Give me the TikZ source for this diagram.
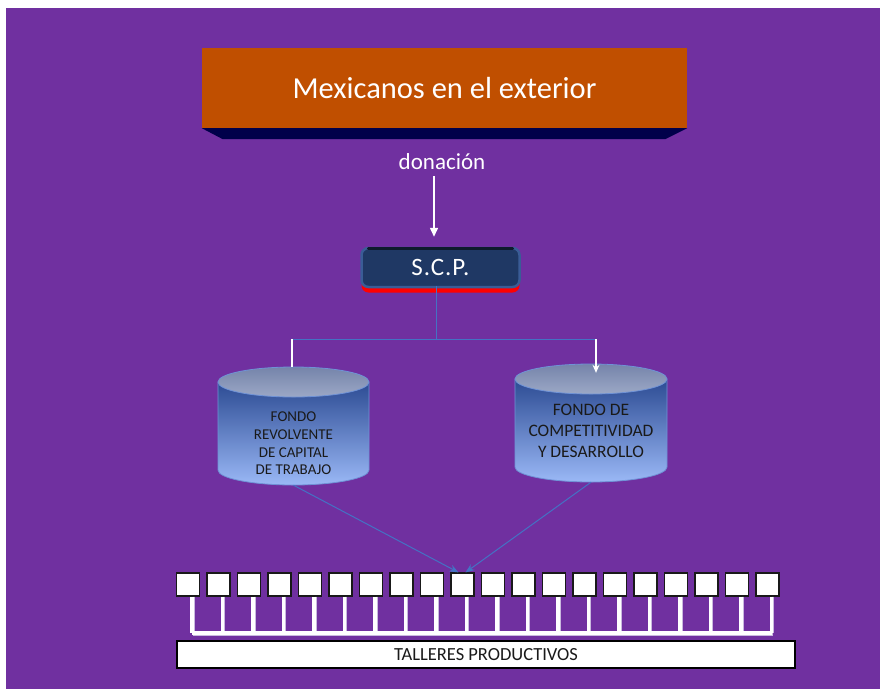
\documentclass[tikz,border=0pt]{standalone}
\usepackage{fontspec}
\setmainfont{Carlito}
\usetikzlibrary{arrows.meta,shadows}
\definecolor{bgpurple}{HTML}{7030A0}
\definecolor{toporange}{HTML}{C04F00}
\definecolor{topshadow}{HTML}{00004A}
\definecolor{scpface}{HTML}{1F3864}
\definecolor{scpedge}{HTML}{3A5C96}
\definecolor{scpdark}{HTML}{0E1B2C}
\definecolor{linkblue}{HTML}{4472C4}
\definecolor{cylTop}{HTML}{2C4B93}
\definecolor{cylBot}{HTML}{9AB8F6}
\definecolor{ellTop}{HTML}{7584AA}
\definecolor{ellBot}{HTML}{9CA8C6}
\definecolor{cylEdge}{HTML}{6F92D6}
\definecolor{txtdark}{HTML}{1A1A1A}
\definecolor{stemshadow}{HTML}{C9B9DE}
\tikzset{
  blueline/.style={draw=linkblue, line width=1pt},
  whiteline/.style={draw=white, line width=1.2pt},
  tbox/.style={draw=black!90, fill=white, line width=1.2pt, minimum width=23pt, minimum height=23pt, inner sep=0pt},
  stem/.style={draw=white, line width=3.5pt},
  stemsh/.style={draw=stemshadow, line width=3.5pt},
  cyltext/.style={align=center, text=txtdark, inner sep=0pt},
  cylbox/.style={inner sep=0pt, minimum width=151pt, minimum height=118pt},
}
\newcommand\mycyl[5]{% cx, ytop, ybot, rx, ry
  \shadedraw[top color=cylTop, bottom color=cylBot, draw=cylEdge, line width=0.8pt]
    ({#1-#4},#2) -- ({#1-#4},#3) arc[start angle=180, end angle=0, x radius=#4, y radius=#5] -- ({#1+#4},#2) -- cycle;
  \shadedraw[top color=ellTop, bottom color=ellBot, draw=cylEdge, line width=0.8pt]
    (#1,#2) ellipse [x radius=#4, y radius=#5];
}
\begin{document}
\begin{tikzpicture}[x=1pt,y=-1pt]
\useasboundingbox (0,0) rectangle (880,689);
\fill[bgpurple] (6,8) rectangle (880,689);

% top box
\node[fill=toporange, minimum width=485pt, minimum height=80pt, inner sep=0pt, text=white,
      font=\fontsize{30.5}{36}\selectfont] (top) at (444.5,88) {Mexicanos en el exterior};
\fill[topshadow] (top.south west) -- (top.south east) -- ++(-22,11) -- ([xshift=21pt,yshift=-11pt]top.south west) -- cycle;

% donacion
\node[text=white, font=\fontsize{23}{27}\selectfont, inner sep=0pt] (don) at (442,162) {donación};

% SCP
\node[fill=scpface, draw=scpedge, line width=2.5pt, rounded corners=7pt,
      minimum width=158pt, minimum height=39pt, inner sep=0pt, text=white,
      font=\fontsize{25}{29}\selectfont,
      drop shadow={shadow xshift=0pt, shadow yshift=-5.5pt, fill=red, opacity=1}] (scp) at (440.5,267.5) {\addfontfeatures{LetterSpace=4}S.C.P.};
\draw[scpdark, line width=2.5pt, line cap=round] ([xshift=8pt,yshift=-1.5pt]scp.north west) -- ([xshift=-8pt,yshift=-1.5pt]scp.north east);

\draw[white, line width=1.5pt, -{Triangle[width=8pt,length=9pt]}] ([xshift=-8pt,yshift=-6pt]don.south) -- ([xshift=-6.5pt,yshift=10pt]scp.north);

% cylinders
\mycyl{293.5}{382}{470}{75.5}{15}
\mycyl{591}{379}{467}{76}{15}
\node[cylbox] (cylL) at (293.5,426) {};
\node[cylbox] (cylR) at (591,423) {};
\node[cyltext, font=\fontsize{15}{17.7}\selectfont] (txtL) at (293.5,443.5) {FONDO\\REVOLVENTE\\DE CAPITAL\\DE TRABAJO};
\node[cyltext, font=\fontsize{17.5}{21}\selectfont] (txtR) at (591,431) {FONDO DE\\COMPETITIVIDAD\\Y DESARROLLO};

% split connector
\coordinate (hl) at (292,339);
\coordinate (hr) at (596,339);
\draw[blueline] ([xshift=-4.5pt,yshift=2.5pt]scp.south) -- ([xshift=-4.5pt]scp.south |- hl);
\draw[blueline] (hl) -- (hr);
\draw[whiteline] (hl) -- (hl |- cylL.north);
\draw[whiteline, -{Stealth[width=7pt,length=8pt]}] (hr) -- ([yshift=-9pt]hr |- cylR.north);

% workshops
\foreach \i in {1,...,20} {
  \node[tbox] (t\i) at ({188+(\i-1)*30.5},584.5) {};
}
\coordinate (bus) at (0,633);
\draw[stemsh, line cap=square] ([xshift=5pt,yshift=-1pt]t1.south |- bus) -- ([xshift=5pt,yshift=-1pt]t20.south |- bus);
\foreach \i in {1,...,20} {
  \draw[stemsh] ([xshift=5pt]t\i.south) -- ([xshift=5pt]t\i.south |- bus);
}
\draw[stem, line cap=square] ([xshift=4pt]t1.south |- bus) -- ([xshift=4pt]t20.south |- bus);
\foreach \i in {1,...,20} {
  \draw[stem] ([xshift=4pt]t\i.south) -- ([xshift=4pt]t\i.south |- bus);
}

\node[draw=black, fill=white, line width=1.2pt, minimum width=618pt, minimum height=27pt, inner sep=0pt,
      text=txtdark, font=\fontsize{18.5}{22}\selectfont] (tall) at (486,654.5) {TALLERES PRODUCTIVOS};

% fund links
\draw[blueline, -{Stealth[width=7pt,length=9pt]}] (cylL.south) -- ([xshift=-4pt]t10.north);
\draw[blueline, -{Stealth[width=7pt,length=9pt]}] (cylR.south) -- ([xshift=3pt]t10.north);
\end{tikzpicture}
\end{document}
